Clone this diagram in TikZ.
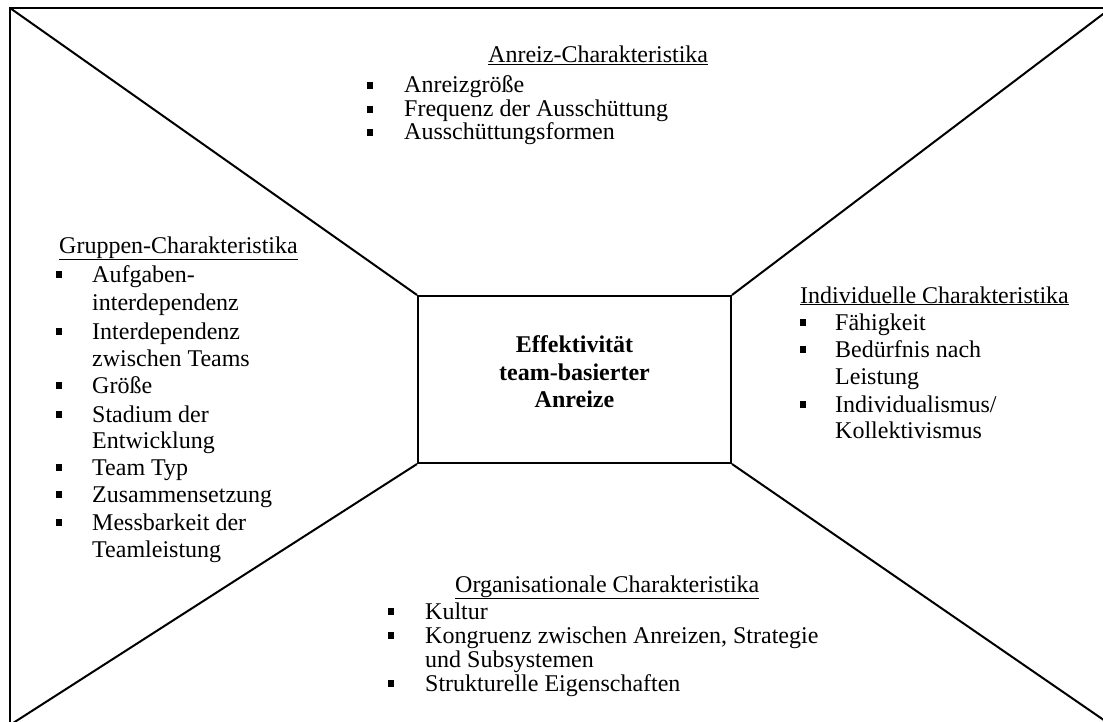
\documentclass[tikz,border=0pt]{standalone}
\usepackage{fontspec}
\setmainfont{Liberation Serif}
\begin{document}
\begin{tikzpicture}[x=1pt,y=-1pt,
  txt/.style={anchor=base west, inner sep=0pt, font=\fontsize{24}{28}\selectfont},
  ctr/.style={anchor=base, inner sep=0pt, font=\fontsize{24}{28}\selectfont\bfseries},
  bul/.style={rectangle, fill=black, inner sep=0pt, minimum size=6.5pt},
  edge/.style={line width=2pt},
  box/.style={draw, line width=2pt, minimum width=313pt, minimum height=167pt, inner sep=0pt}]
\useasboundingbox (0,0) rectangle (1103,722);
% centre box
\node[box] (cbox) at (574.5,379.5) {};
\node[ctr] (c1) at (574.5,352) {Effektivität};
\node[ctr] (c2) at (574.5,380) {team-basierter};
\node[ctr] (c3) at (574.5,407) {Anreize};
% frame and diagonals
\begin{scope}
\clip (0,0) rectangle (1103,722);
\coordinate (tl) at (10,8);
\coordinate (tr) at (1111,8);
\coordinate (bl) at (10,725);
\coordinate (br) at (1111,725);
\draw[edge] (bl) -- (tl) -- (tr);
\draw[edge] (tl) -- (cbox.north west);
\draw[edge] (tr) -- (cbox.north east);
\draw[edge] (bl) -- (cbox.south west);
\draw[edge] (br) -- (cbox.south east);
\end{scope}
% Anreiz
\node[txt] (a0) at (488,63) {\underline{Anreiz-Charakteristika}};
\node[bul] (ab1) at (370,85.5) {};
\node[txt] (a1) at (404,93) {Anreizgröße};
\node[bul] (ab2) at (370,109.5) {};
\node[txt] (a2) at (404,117) {Frequenz der Ausschüttung};
\node[bul] (ab3) at (370,132.5) {};
\node[txt] (a3) at (404,140) {Ausschüttungsformen};
% Gruppen
\node[txt] (g0) at (59,253) {\underline{Gruppen-Charakteristika}};
\node[bul] (gb1) at (59,274.5) {};
\node[txt] (g1) at (92,282) {Aufgaben-};
\node[txt] (g1b) at (92,310) {interdependenz};
\node[bul] (gb2) at (59,331.5) {};
\node[txt] (g2) at (92,339) {Interdependenz};
\node[txt] (g2b) at (92,366) {zwischen Teams};
\node[bul] (gb3) at (59,385.5) {};
\node[txt] (g3) at (92,393) {Größe};
\node[bul] (gb4) at (59,414.5) {};
\node[txt] (g4) at (92,422) {Stadium der};
\node[txt] (g4b) at (92,448) {Entwicklung};
\node[bul] (gb5) at (59,467.5) {};
\node[txt] (g5) at (92,475) {Team Typ};
\node[bul] (gb6) at (59,494.5) {};
\node[txt] (g6) at (92,502) {Zusammensetzung};
\node[bul] (gb7) at (59,522.5) {};
\node[txt] (g7) at (92,530) {Messbarkeit der};
\node[txt] (g7b) at (92,557) {Teamleistung};
% Individuelle
\node[txt] (i0) at (800,303) {\underline{Individuelle Charakteristika}};
\node[bul] (ib1) at (803,322.5) {};
\node[txt] (i1) at (835,330) {Fähigkeit};
\node[bul] (ib2) at (803,349.5) {};
\node[txt] (i2) at (835,357) {Bedürfnis nach};
\node[txt] (i2b) at (835,384) {Leistung};
\node[bul] (ib3) at (803,404.5) {};
\node[txt] (i3) at (835,412) {Individualismus/};
\node[txt] (i3b) at (835,438) {Kollektivismus};
% Organisationale
\node[txt] (o0) at (455,592) {\underline{Organisationale Charakteristika}};
\node[bul] (ob1) at (391,611.5) {};
\node[txt] (o1) at (425,619) {Kultur};
\node[bul] (ob2) at (391,635.5) {};
\node[txt] (o2) at (425,643) {Kongruenz zwischen Anreizen, Strategie};
\node[txt] (o2b) at (425,667) {und Subsystemen};
\node[bul] (ob3) at (391,683.5) {};
\node[txt] (o3) at (425,691) {Strukturelle Eigenschaften};
\end{tikzpicture}
\end{document}
